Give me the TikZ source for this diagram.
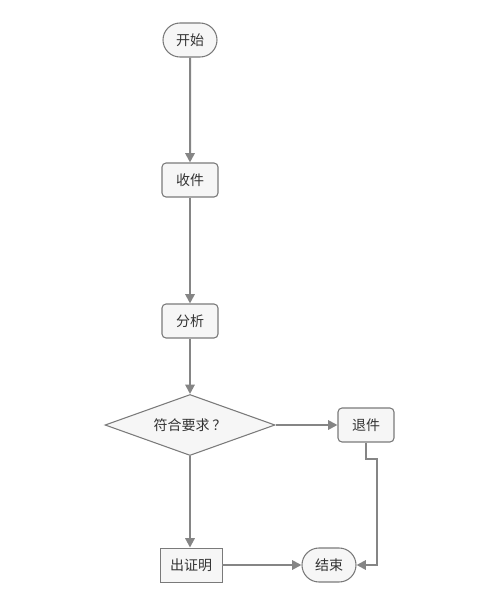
\documentclass[tikz,border=0pt]{standalone}
\usepackage{fontspec}
\setmainfont{Noto Sans CJK SC}
\usetikzlibrary{shapes.geometric,shapes.misc,arrows.meta}
\definecolor{boxfill}{HTML}{F6F6F6}
\definecolor{boxline}{HTML}{7A7A7A}
\definecolor{flowline}{HTML}{858585}
\begin{document}
\begin{tikzpicture}[x=0.75pt, y=-0.75pt,
    terminal/.style={draw=boxline, fill=boxfill, rounded rectangle, line width=0.8pt, minimum width=46.5pt, minimum height=25.5pt, inner xsep=3pt, font=\fontsize{10.5}{12}\selectfont, text=black!80},
    process/.style={draw=boxline, fill=boxfill, rectangle, rounded corners=3pt, line width=0.8pt, minimum width=42pt, minimum height=25.5pt, font=\fontsize{10.5}{12}\selectfont, text=black!80},
    plainbox/.style={draw=boxline, fill=boxfill, rectangle, line width=0.7pt, minimum width=46.5pt, minimum height=25.5pt, font=\fontsize{10.5}{12}\selectfont, text=black!80},
    decision/.style={draw=boxline, fill=boxfill, diamond, aspect=2.8, line width=0.8pt, inner sep=0pt, minimum width=127.5pt, minimum height=45.75pt, font=\fontsize{10.5}{12}\selectfont, text=black!80},
    flow/.style={draw=flowline, line width=1.5pt, -{Triangle[length=7pt,width=7pt]}}]
  \useasboundingbox (0,0) rectangle (500,603);
  \node[terminal] (start) at (190, 40) {开始};
  \node[process] (receive) at (190, 180) {收件};
  \node[process] (analyse) at (190, 321) {分析};
  \node[decision] (check) at (190, 425) {符合要求\hspace{2pt}？};
  \node[process] (reject) at (366, 425) {退件};
  \node[plainbox] (issue) at (191, 565) {出证明};
  \node[terminal] (finish) at (329, 565) {结束};
  \coordinate (bendA) at (366, 459);
  \coordinate (bendB) at (377, 459);
  \coordinate (bendC) at (377, 565);
  % main line
  \draw[flow] (start) -- (receive);
  \draw[flow] (receive) -- (analyse);
  \draw[flow] (analyse) -- (check);
  \draw[flow] (check.south) -- (check.south |- issue.north);
  \draw[flow] (check) -- (reject);
  \draw[flow] (issue) -- (finish);
  % return path
  \draw[flow] (reject.south) -- (bendA) -- (bendB) -- (bendC) -- (finish.east);
\end{tikzpicture}
\end{document}
